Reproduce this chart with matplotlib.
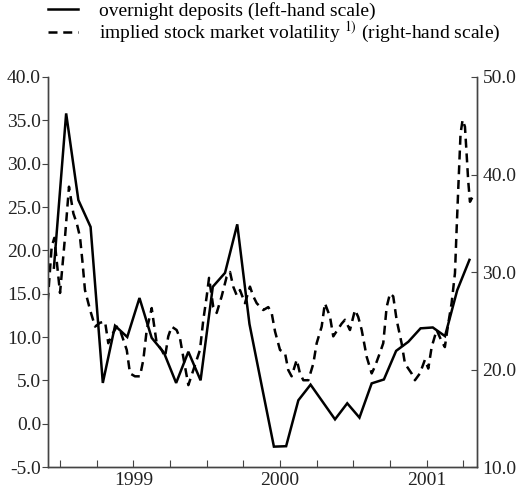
import numpy as np
import pandas as pd
from matplotlib import pyplot as plt

plt.rcParams['font.family'] = ['Liberation Serif', 'DejaVu Serif']
plt.rcParams['mathtext.fontset'] = 'stix'

# overnight deposits, monthly, Dec 1998 - Oct 2001 (left-hand scale)
months = pd.period_range('1998-12', '2001-10', freq='M')
deposits = [18.0, 35.8, 25.8, 22.7, 4.7, 11.3, 10.0, 14.5, 9.9, 8.2, 4.7, 8.3,
            5.0, 15.8, 17.4, 23.0, 11.5, 4.4, -2.65, -2.6, 2.7, 4.5, 2.5, 0.5,
            2.35, 0.7, 4.65, 5.1, 8.4, 9.45, 11.0, 11.1, 10.1, 15.4, 18.9]

# implied stock market volatility (right-hand scale), decimal years
vol_t = [1998.916, 1998.943, 1998.961, 1999.000, 1999.034, 1999.061, 1999.091, 1999.114,
         1999.136, 1999.152, 1999.170, 1999.205, 1999.239, 1999.273, 1999.307, 1999.329,
         1999.352, 1999.387, 1999.409, 1999.455, 1999.477, 1999.511, 1999.545, 1999.568,
         1999.591, 1999.625, 1999.636, 1999.659, 1999.693, 1999.716, 1999.738, 1999.761,
         1999.795, 1999.818, 1999.840, 1999.875, 1999.954, 1999.977, 2000.000, 2000.016,
         2000.045, 2000.068, 2000.102, 2000.136, 2000.159, 2000.181, 2000.205, 2000.227,
         2000.261, 2000.295, 2000.318, 2000.341, 2000.386, 2000.420, 2000.443, 2000.466,
         2000.500, 2000.534, 2000.556, 2000.579, 2000.614, 2000.636, 2000.659, 2000.693,
         2000.727, 2000.750, 2000.784, 2000.806, 2000.841, 2000.863, 2000.920, 2000.943,
         2000.977, 2001.011, 2001.033, 2001.057, 2001.091, 2001.125, 2001.147, 2001.181,
         2001.204, 2001.227, 2001.250, 2001.272, 2001.295, 2001.329, 2001.352, 2001.397,
         2001.420, 2001.454, 2001.488, 2001.511, 2001.534, 2001.568, 2001.602, 2001.624,
         2001.647, 2001.670, 2001.693, 2001.704, 2001.715, 2001.731, 2001.745, 2001.761,
         2001.772, 2001.783, 2001.795, 2001.813]
vol = [26.95, 32.6, 33.5, 27.85, 33.6, 38.75, 36.0, 35.0,
       33.6, 31.2, 28.15, 26.1, 24.4, 24.8, 24.9, 22.7,
       23.5, 24.4, 24.05, 22.0, 19.6, 19.3, 19.3, 21.0,
       24.05, 26.3, 25.1, 22.7, 22.0, 21.3, 23.4, 24.4,
       24.05, 23.2, 21.3, 18.4, 22.0, 25.1, 27.5, 29.4,
       26.4, 25.8, 27.5, 29.5, 30.0, 28.5, 27.6, 28.15,
       26.8, 28.5, 27.5, 26.8, 26.1, 26.4, 25.8, 23.9,
       22.0, 21.7, 19.95, 19.3, 21.0, 19.6, 18.9, 18.9,
       20.6, 22.7, 24.4, 26.8, 25.4, 23.4, 24.7, 25.1,
       24.05, 26.1, 25.4, 24.05, 21.3, 19.6, 20.3, 21.7,
       22.7, 26.4, 27.8, 27.5, 25.1, 22.7, 20.6, 19.6,
       18.9, 19.6, 21.0, 20.1, 22.3, 24.05, 22.9, 22.3,
       24.7, 26.8, 29.9, 34.3, 38.4, 44.2, 45.6, 44.9,
       42.2, 39.4, 37.2, 37.7]

years = ['1999', '2000', '2001']

dep_t = [p.year + (p.month - 0.5) / 12 for p in months]

fig = plt.figure(figsize=(5.23, 4.92), dpi=100)
ax = fig.add_axes([0.0918, 0.0508, 0.8202, 0.7927])
ax2 = ax.twinx()

l1, = ax.plot(dep_t, deposits, color='black', lw=1.8, solid_joinstyle='miter')
l2, = ax2.plot(vol_t, vol, color='black', lw=1.8, dashes=(3.6, 2.3))

ax.set_xlim(1998.918, 2001.843)
ax.set_ylim(-5, 40)
ax2.set_ylim(10, 50)

ax.set_yticks(np.arange(-5, 41, 5))
ax.set_yticklabels(['%.1f' % v for v in np.arange(-5, 41, 5)])
ax2.set_yticks(np.arange(10, 51, 10))
ax2.set_yticklabels(['%.1f' % v for v in np.arange(10, 51, 10)])

qticks = np.arange(1999.0, 2001.8, 0.25)
ax.set_xticks(qticks)
ax.set_xticklabels([years[int(q) - 1999] if abs(q % 1 - 0.5) < 1e-6 else '' for q in qticks])

col = '#444444'
txt = '#222222'
for a in (ax, ax2):
    a.spines['top'].set_visible(False)
    for s in ('left', 'right', 'bottom'):
        a.spines[s].set_color(col)
        a.spines[s].set_linewidth(1.0)
ax.tick_params(axis='y', direction='out', length=4, width=0.8, color=col,
               labelsize=14, labelcolor=txt, pad=1)
ax.tick_params(axis='x', direction='in', length=5, width=0.8, color=col,
               labelsize=14, labelcolor=txt, pad=3.5)
ax2.tick_params(axis='y', direction='in', length=4, width=0.8, color=col,
                labelsize=14, labelcolor=txt, pad=4)

fig.legend([l1, l2],
           ['overnight deposits (left-hand scale)',
            r'implied stock market volatility $^{\rm 1)}$ (right-hand scale)'],
           loc='upper left', bbox_to_anchor=(0.088, 1.0), frameon=False,
           fontsize=14, handlelength=1.55, handletextpad=1.1, labelspacing=0.0,
           borderpad=0.1, borderaxespad=0)

fig.savefig('out.png', dpi=100)
